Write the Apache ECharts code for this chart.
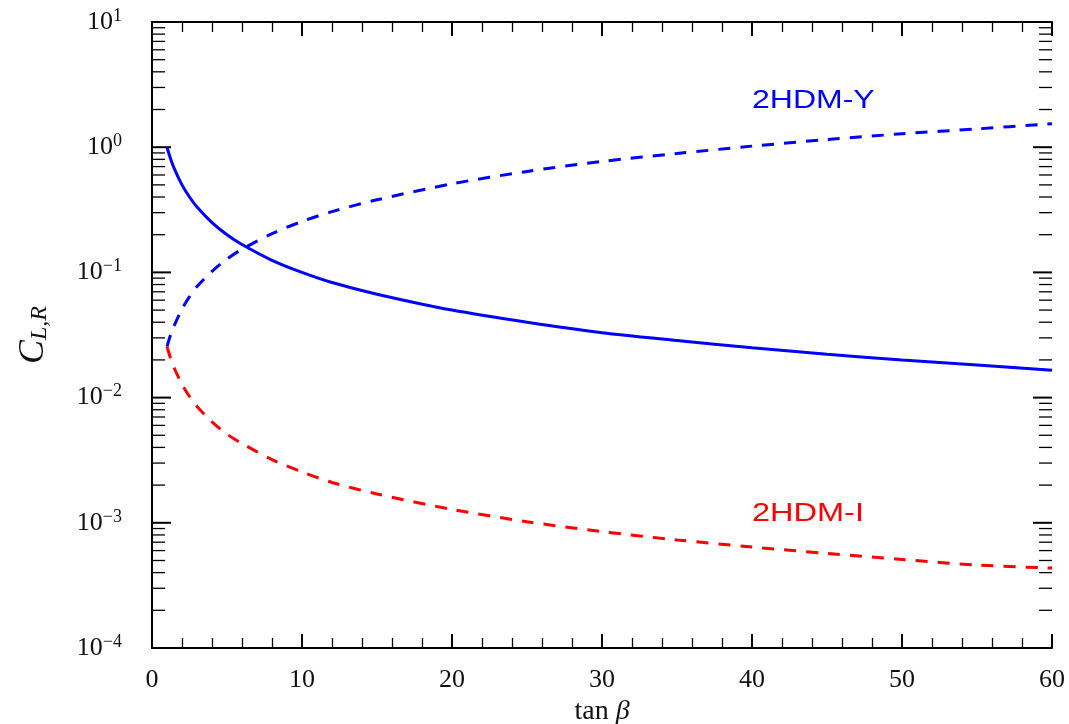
<!DOCTYPE html>
<html>
<head>
<meta charset="utf-8">
<script src="https://cdn.jsdelivr.net/npm/echarts@6/dist/echarts.min.js"></script>
<style>
  html, body { margin: 0; padding: 0; background: #fff; }
  #chart { width: 1069px; height: 724px; }
</style>
</head>
<body>
<div id="chart"></div>
<script>
// tan(beta) sample points
const tanBeta = [1, 1.25, 1.5, 2, 2.5, 3, 4, 5, 6, 8, 10, 12, 15, 20, 25, 30, 35, 40, 45, 50, 55, 60]
// 2HDM-Y, solid
const ySolid = [1, 0.8, 0.667, 0.5, 0.4, 0.333, 0.25, 0.2, 0.167, 0.125, 0.1, 0.083, 0.067, 0.05, 0.04, 0.033, 0.0286, 0.025, 0.0222, 0.02, 0.0182, 0.0165]
// 2HDM-Y, dashed
const yDashed = [0.0255, 0.032, 0.038, 0.051, 0.064, 0.077, 0.102, 0.128, 0.153, 0.204, 0.255, 0.306, 0.38, 0.51, 0.64, 0.77, 0.89, 1.02, 1.15, 1.28, 1.4, 1.54]
// 2HDM-I, dashed
const iDashed = [0.0255, 0.0204, 0.017, 0.0128, 0.0102, 0.0085, 0.0064, 0.0051, 0.0043, 0.0032, 0.00255, 0.0021, 0.0017, 0.00128, 0.00102, 0.00085, 0.00073, 0.00064, 0.00057, 0.00051, 0.00046, 0.000435]

const xMin = 0
const xMax = 60
const yMin = 1e-4
const yMax = 10

// log minor tick positions (2..9 in each decade)
const yMinorTicks = []
for (let e = -4; e < 1; e++) {
  for (let k = 2; k <= 9; k++) yMinorTicks.push(k * Math.pow(10, e))
}
const yMajorTicks = [1e-4, 1e-3, 1e-2, 1e-1, 1, 10]

const serif = 'Liberation Serif'

function pairs(ys) {
  return tanBeta.map((t, i) => [t, ys[i]])
}

const chart = echarts.init(document.getElementById('chart'))

chart.setOption({
  animation: false,
  grid: { left: 152, right: 17, top: 22, bottom: 76, containLabel: false, outerBoundsMode: 'none' },
  xAxis: [
    {
      type: 'value',
      min: xMin,
      max: xMax,
      interval: 10,
      name: '{t|tan }{g|β}',
      nameLocation: 'middle',
      nameGap: 50,
      nameTextStyle: {
        rich: {
          t: { fontFamily: serif, fontSize: 28, color: '#111' },
          g: { fontFamily: serif, fontSize: 28, fontStyle: 'italic', color: '#111' }
        }
      },
      axisLine: { show: true, lineStyle: { color: '#000', width: 2 } },
      axisTick: { inside: true, length: 14, lineStyle: { color: '#000', width: 2 } },
      minorTick: { show: true, splitNumber: 5, length: 10, lineStyle: { color: '#000', width: 1.3 } },
      axisLabel: { fontFamily: serif, fontSize: 26, color: '#111', margin: 19 },
      splitLine: { show: false }
    },
    {
      type: 'value',
      position: 'top',
      min: xMin,
      max: xMax,
      interval: 10,
      axisLine: { show: true, lineStyle: { color: '#000', width: 2 } },
      axisTick: { inside: true, length: 14, lineStyle: { color: '#000', width: 2 } },
      minorTick: { show: true, splitNumber: 5, length: 10, lineStyle: { color: '#000', width: 1.3 } },
      axisLabel: { show: false },
      splitLine: { show: false }
    }
  ],
  yAxis: [
    {
      type: 'log',
      logBase: 10,
      min: yMin,
      max: yMax,
      splitNumber: 5,
      name: '{c|C}{s|L,R}',
      nameLocation: 'middle',
      nameGap: 100,
      nameTextStyle: {
        rich: {
          c: { fontFamily: serif, fontSize: 36, fontStyle: 'italic', color: '#111' },
          s: { fontFamily: serif, fontSize: 24, fontStyle: 'italic', color: '#111', verticalAlign: 'bottom', padding: [12, 0, 0, 0] }
        }
      },
      axisLine: { show: true, lineStyle: { color: '#000', width: 2 } },
      axisTick: { show: false },
      axisLabel: {
        margin: 30,
        formatter: v => '{b|10}{s|' + String(Math.round(Math.log10(v))).replace('-', '−') + '}',
        rich: {
          b: { fontFamily: serif, fontSize: 26, color: '#111', lineHeight: 30 },
          s: { fontFamily: serif, fontSize: 18, color: '#111', verticalAlign: 'top', lineHeight: 18 }
        }
      },
      splitLine: { show: false }
    },
    {
      type: 'log',
      logBase: 10,
      position: 'right',
      min: yMin,
      max: yMax,
      splitNumber: 5,
      axisLine: { show: true, lineStyle: { color: '#000', width: 2 } },
      axisTick: { show: false },
      axisLabel: { show: false },
      splitLine: { show: false }
    }
  ],
  graphic: [
    {
      type: 'text',
      x: 752,
      y: 101,
      scaleX: 1.28,
      style: { text: '2HDM-Y', fill: '#0000ff', fontFamily: 'Liberation Sans', fontSize: 25, textAlign: 'left', textVerticalAlign: 'middle' }
    },
    {
      type: 'text',
      x: 752,
      y: 514,
      scaleX: 1.3,
      style: { text: '2HDM-I', fill: '#ff0000', fontFamily: 'Liberation Sans', fontSize: 25, textAlign: 'left', textVerticalAlign: 'middle' }
    }
  ],
  series: [
    {
      // y axis ticks on left and right edges
      type: 'custom',
      silent: true,
      clip: false,
      z: 1,
      data: yMajorTicks.map(v => [xMin, v, 1]).concat(yMinorTicks.map(v => [xMin, v, 0])),
      renderItem: (params, api) => {
        const v = api.value(1)
        const major = api.value(2) === 1
        const len = major ? 19 : 13
        const l = api.coord([xMin, v])
        const r = api.coord([xMax, v])
        const style = { stroke: '#000', lineWidth: major ? 2 : 1.3 }
        return {
          type: 'group',
          children: [
            { type: 'line', shape: { x1: l[0], y1: l[1], x2: l[0] + len, y2: l[1] }, style },
            { type: 'line', shape: { x1: r[0], y1: r[1], x2: r[0] - len, y2: r[1] }, style }
          ]
        }
      }
    },
    {
      name: '2HDM-Y solid',
      type: 'line',
      data: pairs(ySolid),
      smooth: 0.3,
      showSymbol: false,
      lineStyle: { color: '#0000ff', width: 3 },
      z: 3
    },
    {
      name: '2HDM-Y dashed',
      type: 'line',
      data: pairs(yDashed),
      smooth: 0.3,
      showSymbol: false,
      lineStyle: { color: '#0000ff', width: 3, type: [12, 10] },
      z: 3
    },
    {
      name: '2HDM-I dashed',
      type: 'line',
      data: pairs(iDashed),
      smooth: 0.3,
      showSymbol: false,
      lineStyle: { color: '#ff0000', width: 3, type: [12, 10] },
      z: 3
    }
  ]
})
</script>
</body>
</html>
